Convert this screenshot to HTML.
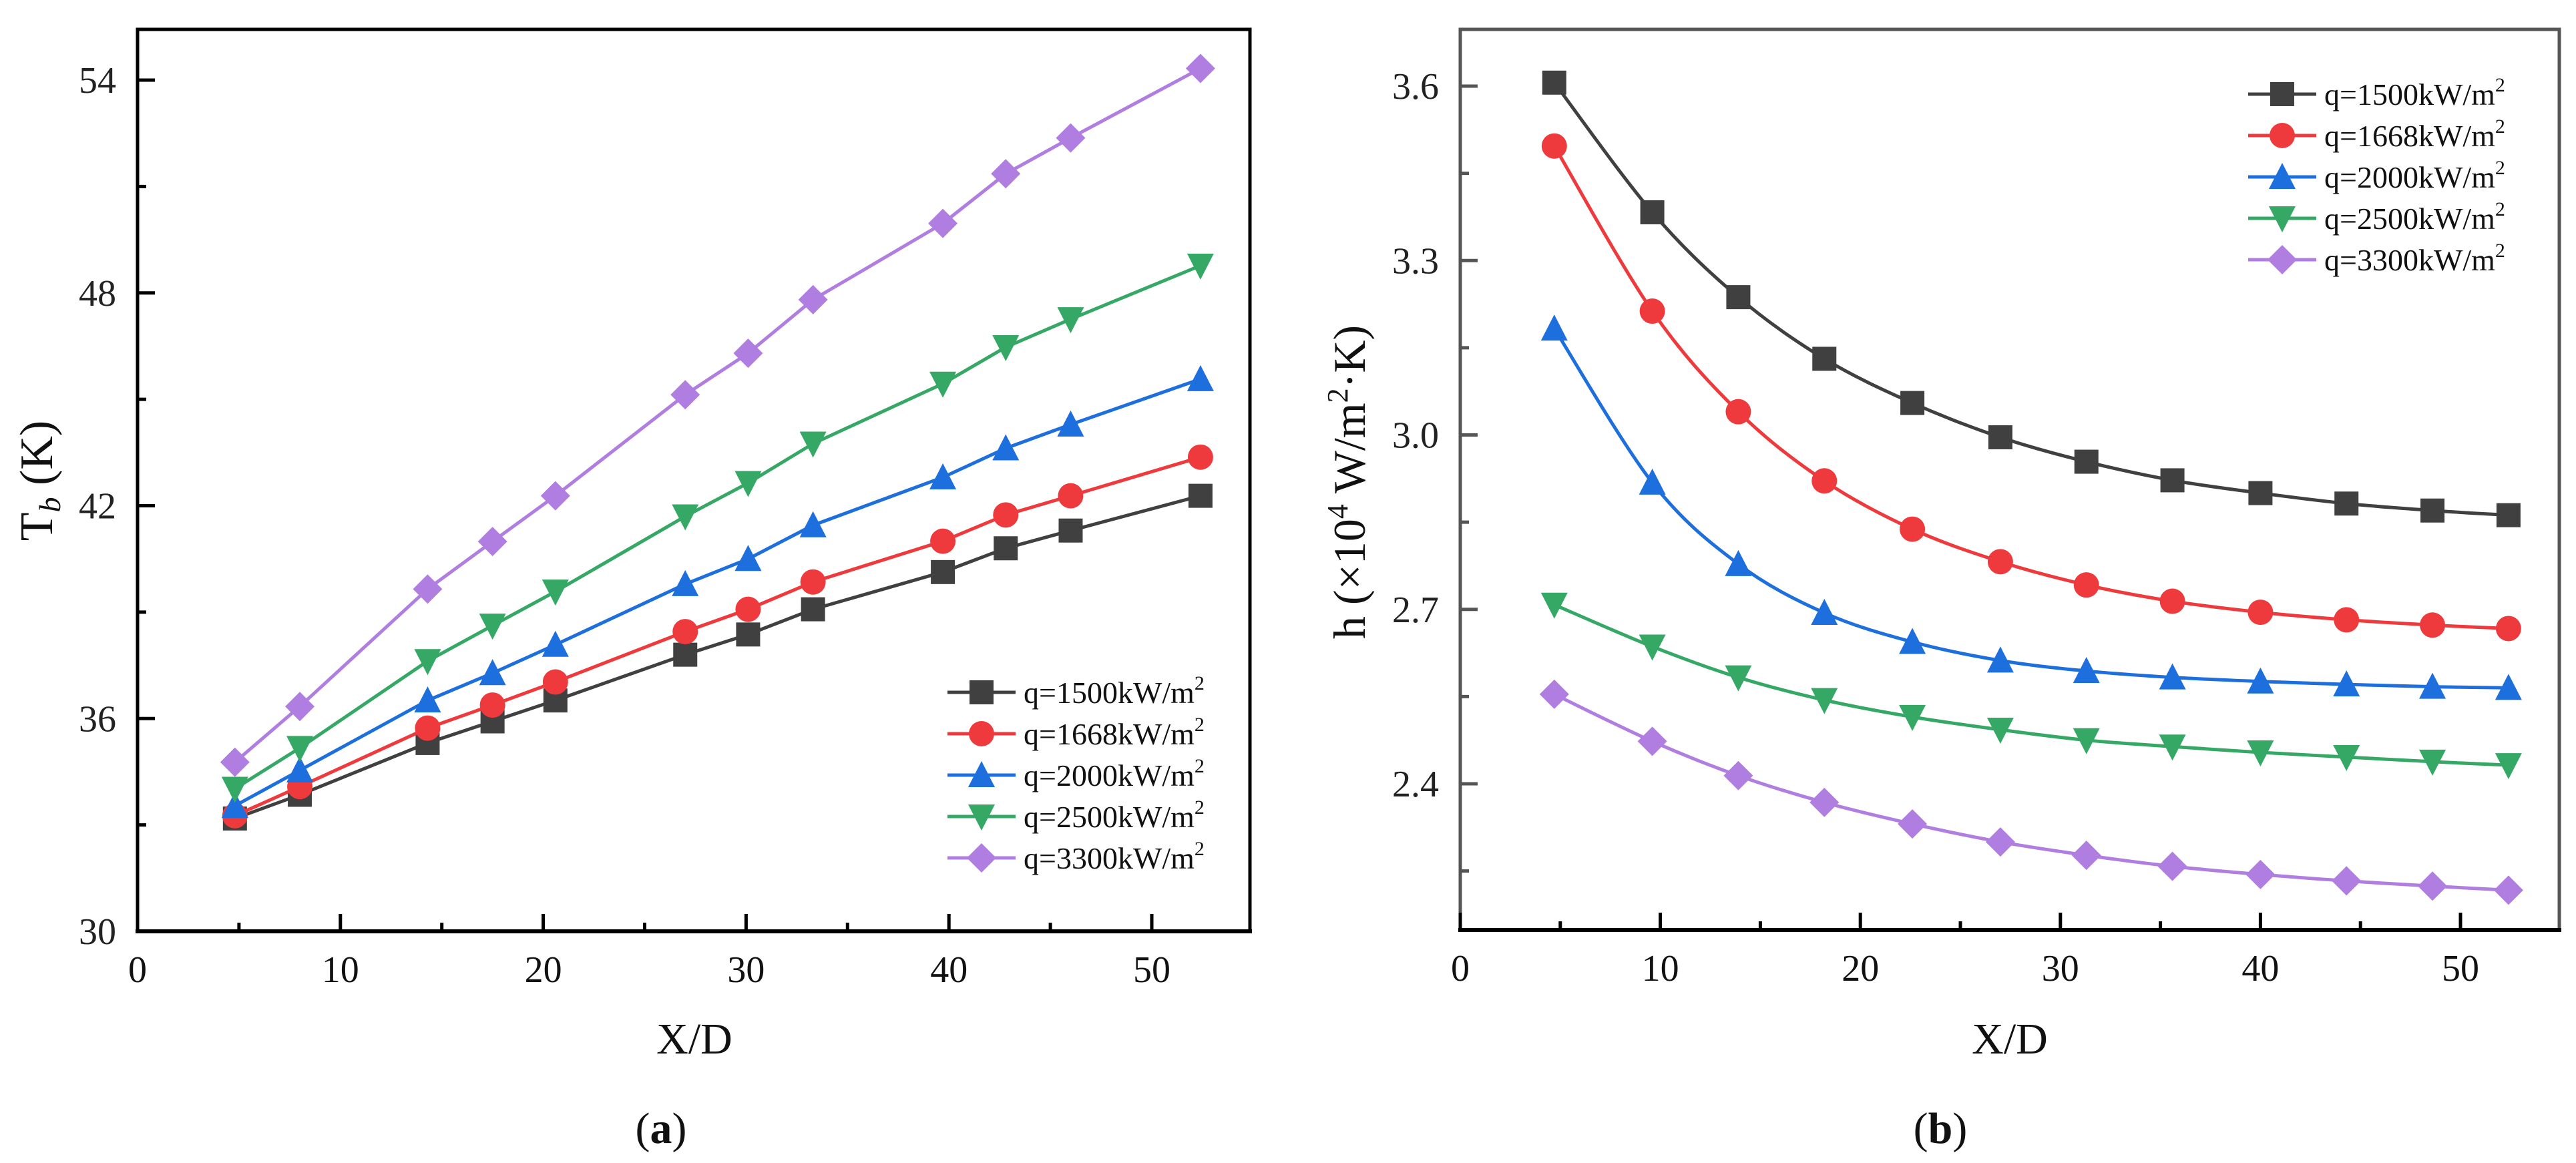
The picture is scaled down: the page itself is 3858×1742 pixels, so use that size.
<!DOCTYPE html>
<html><head><meta charset="utf-8">
<style>
html,body{margin:0;padding:0;background:#fff;}
svg{display:block;font-family:"Liberation Serif",serif;}
</style></head>
<body>
<svg id="fig" width="3858" height="1742" viewBox="0 0 3858 1742" xmlns="http://www.w3.org/2000/svg">
<rect width="3858" height="1742" fill="#fff"/>
<g id="pa"></g>
<g id="pb"></g>
</svg>
<script>
const seriesLabels = ["1500","1668","2000","2500","3300"];
const seriesColors = ["#404040","#ee3a3c","#1c6fdc","#36a865","#b07de0"];
const markerKinds = ["square","circle","up","down","diamond"];

const xA = [4.8,8.0,14.3,17.5,20.6,27.0,30.1,33.3,39.7,42.8,46.0,52.4];
const tA1500 = [33.18,33.85,35.31,35.92,36.51,37.80,38.37,39.08,40.13,40.80,41.30,42.28];
const tA1668 = [33.26,34.08,35.73,36.38,37.03,38.45,39.08,39.85,41.00,41.74,42.28,43.37];
const tA2000 = [33.54,34.54,36.51,37.28,38.08,39.79,40.50,41.45,42.80,43.62,44.29,45.57];
const tA2500 = [34.02,35.17,37.62,38.62,39.58,41.70,42.64,43.75,45.44,46.47,47.26,48.77];
const tA3300 = [34.77,36.34,39.65,40.99,42.28,45.13,46.30,47.81,49.96,51.36,52.37,54.33];
const xTicksA = [0,10,20,30,40,50];
const yTicksA = [30,36,42,48,54];

const xB = [4.7,9.6,13.9,18.2,22.6,27.0,31.3,35.6,40.0,44.3,48.6,52.4];
const hB1500 = [3.606,3.383,3.237,3.131,3.055,2.996,2.954,2.922,2.900,2.882,2.870,2.862];
const hB1668 = [3.497,3.213,3.040,2.921,2.838,2.782,2.742,2.714,2.695,2.682,2.673,2.667];
const hB2000 = [3.183,2.918,2.778,2.694,2.644,2.612,2.594,2.583,2.576,2.571,2.567,2.565];
const hB2500 = [2.708,2.636,2.583,2.544,2.515,2.493,2.475,2.464,2.454,2.446,2.438,2.432];
const hB3300 = [2.554,2.473,2.414,2.368,2.331,2.300,2.277,2.258,2.244,2.233,2.224,2.217];
const xTicksB = [0,10,20,30,40,50];
const yTicksB = ["2.4","2.7","3.0","3.3","3.6"];

const NS="http://www.w3.org/2000/svg";
function mk(tag,attrs,parent){const e=document.createElementNS(NS,tag);for(const k in attrs)e.setAttribute(k,attrs[k]);parent.appendChild(e);return e;}

function marker(g,kind,cx,cy,col){
  const s=18;let e;
  if(kind==="square") e=mk("rect",{x:cx-s,y:cy-s,width:2*s,height:2*s,fill:col},g);
  else if(kind==="circle") e=mk("circle",{cx:cx,cy:cy,r:s+1,fill:col},g);
  else if(kind==="up") e=mk("polygon",{points:`${cx},${cy-s-3} ${cx+s+2},${cy+s} ${cx-s-2},${cy+s}`,fill:col},g);
  else if(kind==="down") e=mk("polygon",{points:`${cx},${cy+s+3} ${cx+s+2},${cy-s} ${cx-s-2},${cy-s}`,fill:col},g);
  else e=mk("polygon",{points:`${cx},${cy-s-4} ${cx+s+4},${cy} ${cx},${cy+s+4} ${cx-s-4},${cy}`,fill:col},g);
  
  
}

function smoothPath(pts){
  let d=`M${pts[0][0]},${pts[0][1]}`;
  for(let i=0;i<pts.length-1;i++){
    const p0=pts[Math.max(i-1,0)],p1=pts[i],p2=pts[i+1],p3=pts[Math.min(i+2,pts.length-1)];
    const c1x=p1[0]+(p2[0]-p0[0])/6,c1y=p1[1]+(p2[1]-p0[1])/6;
    const c2x=p2[0]-(p3[0]-p1[0])/6,c2y=p2[1]-(p3[1]-p1[1])/6;
    d+=` C${c1x},${c1y} ${c2x},${c2y} ${p2[0]},${p2[1]}`;
  }
  return d;
}

function panel(g,cfg){
  const {L,R,T,B,sx,sy,xTicks,yTicks,yMinor,xMinor,xs,ys,smooth,frameCol,legX,legY,legDy}=cfg;
  // series
  ys.forEach((arr,si)=>{
    const pts=arr.map((v,i)=>[sx(xs[i]),sy(v)]);
    const sg=mk("g",{},g);
    
    
    const d=smooth?smoothPath(pts):"M"+pts.map(p=>p[0]+","+p[1]).join(" L");
    const ln=mk("path",{d:d,fill:"none",stroke:seriesColors[si],"stroke-width":5},sg);
    
    
    pts.forEach(p=>marker(sg,markerKinds[si],p[0],p[1],seriesColors[si]));
  });
  // frame
  const fr=mk("rect",{x:L,y:T,width:R-L,height:B-T,fill:"none",stroke:frameCol,"stroke-width":5},g);
  
  
  const bx=mk("line",{x1:L-3,y1:B,x2:R+3,y2:B,stroke:"#000","stroke-width":6},g);
  
  
  // ticks
  xTicks.forEach(t=>{
    const x=sx(+t);
    const tk=mk("line",{x1:x,y1:B,x2:x,y2:B-26,stroke:"#000","stroke-width":5},g);
    
    
    const tx=mk("text",{x:x,y:B+76,"font-size":56,"text-anchor":"middle",fill:"#111"},g);
    tx.textContent=t;
    
    
  });
  xMinor.forEach(t=>{
    const x=sx(t);
    const tk=mk("line",{x1:x,y1:B,x2:x,y2:B-13,stroke:"#000","stroke-width":5},g);
    
    
  });
  yTicks.forEach(t=>{
    const y=sy(+t);
    const tk=mk("line",{x1:L,y1:y,x2:L+26,y2:y,stroke:frameCol,"stroke-width":5},g);
    
    
    const tx=mk("text",{x:L-32,y:y+19,"font-size":56,"text-anchor":"end",fill:"#222"},g);
    tx.textContent=t;
    
    
  });
  yMinor.forEach(t=>{
    const y=sy(t);
    const tk=mk("line",{x1:L,y1:y,x2:L+13,y2:y,stroke:frameCol,"stroke-width":5},g);
    
    
  });
  // legend
  const lg=mk("g",{},g);
  
  
  seriesLabels.forEach((s,i)=>{
    const y=legY+i*legDy;
    const eg=mk("g",{},lg);
    
    
    mk("line",{x1:legX,y1:y,x2:legX+102,y2:y,stroke:seriesColors[i],"stroke-width":5},eg);
    marker(eg,markerKinds[i],legX+51,y,seriesColors[i]);
    const tx=mk("text",{x:legX+114,y:y+16,"font-size":46,fill:"#111"},eg);
    tx.innerHTML=`q=${s}kW/m<tspan dy="-20" font-size="30">2</tspan>`;
  });
}

// Panel A
(function(){
  const L=206,R=1872,T=44,B=1395;
  const sx=v=>L+v*(1725-206)/50;
  const sy=v=>1395-(v-30)*(1395-120)/24;
  panel(document.getElementById('pa'),{L,R,T,B,sx,sy,xTicks:xTicksA,yTicks:yTicksA,
    yMinor:[33,39,45,51],xMinor:[5,15,25,35,45],xs:xA,ys:[tA1500,tA1668,tA2000,tA2500,tA3300],
    smooth:false,frameCol:"#000",legX:1419,legY:1037,legDy:62});
})();
// Panel B
(function(){
  const L=2187,R=3833,T=44,B=1393;
  const sx=v=>L+v*(3685-2187)/50;
  const sy=v=>1174-(v-2.4)*(1174-129)/1.2;
  panel(document.getElementById('pb'),{L,R,T,B,sx,sy,xTicks:xTicksB,yTicks:yTicksB,
    yMinor:[2.25,2.55,2.85,3.15,3.45],xMinor:[5,15,25,35,45],xs:xB,ys:[hB1500,hB1668,hB2000,hB2500,hB3300],
    smooth:true,frameCol:"#555",legX:3367,legY:141,legDy:62});
})();

// titles
const g=document.getElementById('fig');
function txt(html,attrs,name){const t=mk("text",attrs,g);t.innerHTML=html;}
txt("X/D",{x:1040,y:1578,"font-size":66,"text-anchor":"middle",fill:"#111"},"x-axis-title-a");
txt("X/D",{x:3010,y:1578,"font-size":66,"text-anchor":"middle",fill:"#111"},"x-axis-title-b");
txt('T<tspan font-style="italic" font-size="46" dy="12">b</tspan><tspan dy="-12"> (K)</tspan>',{transform:"translate(78,720) rotate(-90)","font-size":70,"text-anchor":"middle",fill:"#111"},"y-axis-title-a");
txt('h (×10<tspan font-size="44" dy="-26">4</tspan><tspan dy="26"> W/m</tspan><tspan font-size="44" dy="-26">2</tspan><tspan dy="26">·K)</tspan>',{transform:"translate(2044,722) rotate(-90)","font-size":68,"text-anchor":"middle",fill:"#111"},"y-axis-title-b");
txt('(<tspan font-weight="bold">a</tspan>)',{x:990,y:1712,"font-size":66,"text-anchor":"middle",fill:"#111"},"panel-label-a");
txt('(<tspan font-weight="bold">b</tspan>)',{x:2906,y:1712,"font-size":66,"text-anchor":"middle",fill:"#111"},"panel-label-b");
</script>
</body></html>
